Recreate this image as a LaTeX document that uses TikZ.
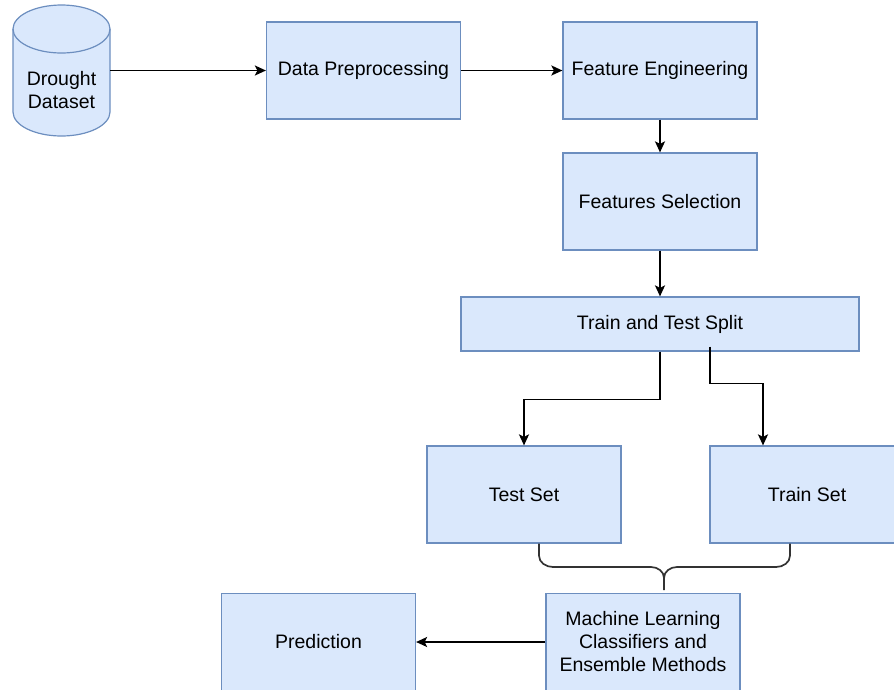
\documentclass[tikz,border=0pt]{standalone}
\usepackage{fontspec}
\setmainfont{Liberation Sans}
\usetikzlibrary{arrows.meta,calc}
\definecolor{boxfill}{HTML}{DAE8FC}
\definecolor{boxline}{HTML}{6C8EBF}
\tikzset{
  stepbox/.style={draw=boxline, fill=boxfill, line width=1.2pt,
    minimum width=194pt, minimum height=97pt, inner sep=2pt,
    align=center, font=\fontsize{19.5}{23}\selectfont},
  flow/.style={draw=black, line width=1.7pt,
    -{Stealth[length=11pt,width=10pt,inset=2.5pt]}},
  link/.style={draw=black!80, line width=1.7pt}
}
\begin{document}
\begin{tikzpicture}[x=1pt,y=1pt]
\useasboundingbox (0,0) rectangle (894,-689);
\clip (0,0) rectangle (894,-689);

% data store (cylinder)
\filldraw[draw=boxline, fill=boxfill, line width=1.2pt]
  (13,-29) -- (13,-112)
  arc[start angle=180, end angle=360, x radius=48.5, y radius=24]
  -- (110,-29)
  arc[start angle=0, end angle=180, x radius=48.5, y radius=24] -- cycle;
\draw[boxline, line width=1.2pt]
  (13,-29) arc[start angle=180, end angle=360, x radius=48.5, y radius=24];
\node[minimum width=97pt, minimum height=130pt, inner sep=0pt] (ds) at (61.5,-70.5) {};
\node[align=center, font=\fontsize{19.5}{23}\selectfont] (dstext) at (61.5,-90) {Drought\\Dataset};

% process steps
\node[stepbox] (pre)   at (363.5,-70.5)  {Data Preprocessing};
\node[stepbox] (feng)  at (660,-70.5)    {Feature Engineering};
\node[stepbox] (fsel)  at (660,-201.5)   {Features Selection};
\node[stepbox, minimum width=398pt, minimum height=54pt] (split) at (660,-324) {Train and Test Split};
\node[stepbox] (test)  at (524,-494.5)   {Test Set};
\node[stepbox] (train) at (807,-494.5)   {Train Set};
\node[stepbox] (ml)    at (643,-642)     {Machine Learning\\Classifiers and\\Ensemble Methods};
\node[stepbox] (pred)  at (318.5,-642)   {Prediction};

% main flow
\draw[flow] (ds.east) -- (pre.west);
\draw[flow] (pre.east) -- (feng.west);
\draw[flow] (feng.south) -- (fsel.north);
\draw[flow] (fsel.south) -- (split.north);
\draw[flow] (split.south) -- ++(0,-48) -| (test.north);
\coordinate (splitout) at ($(split.south)+(50,5)$);
\coordinate (trainin) at ($(train.north)+(-44,0)$);
\draw[flow] (splitout) -- ++(0,-37) -| (trainin);
\draw[flow] (ml.west) -- (pred.east);

% brace joining both sets into the classifier block
\coordinate (bl) at ($(test.south)+(15,0)$);
\coordinate (br) at ($(train.south)+(-17,0)$);
\coordinate (bm) at (664,-578);
\coordinate (btip) at (664,-590);
\draw[link] (bl) -- ++(0,-12) to[out=-90,in=180] (553,-567) -- (651,-567)
  to[out=0,in=90] (bm) -- (btip);
\draw[link] (br) -- ++(0,-12) to[out=-90,in=0] (776,-567) -- (677,-567)
  to[out=180,in=90] (bm);
\end{tikzpicture}
\end{document}
